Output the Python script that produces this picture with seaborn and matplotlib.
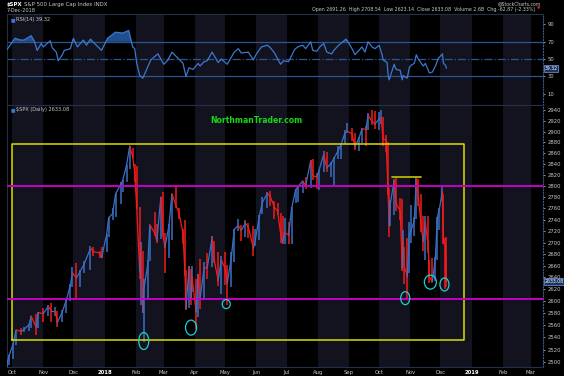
import matplotlib
matplotlib.use("Agg")
import matplotlib.pyplot as plt
import matplotlib.dates as mdates
import matplotlib.transforms as mtransforms
from matplotlib.patches import Ellipse
from matplotlib.ticker import NullLocator
import numpy as np
import pandas as pd
import seaborn as sns

# $SPX samples: date, period high, period low, close
dates = ["2017-09-26", "2017-09-28", "2017-10-02", "2017-10-05", "2017-10-10", "2017-10-13",
         "2017-10-18", "2017-10-20", "2017-10-25", "2017-10-27", "2017-11-01", "2017-11-06",
         "2017-11-09", "2017-11-13", "2017-11-15", "2017-11-20", "2017-11-24", "2017-11-28",
         "2017-11-30", "2017-12-04", "2017-12-08", "2017-12-12", "2017-12-18", "2017-12-21",
         "2017-12-27", "2017-12-29", "2018-01-03", "2018-01-05", "2018-01-09", "2018-01-12",
         "2018-01-17", "2018-01-19", "2018-01-23", "2018-01-26", "2018-01-29", "2018-01-31",
         "2018-02-02", "2018-02-05", "2018-02-06", "2018-02-08", "2018-02-09", "2018-02-13",
         "2018-02-15", "2018-02-20", "2018-02-22", "2018-02-26", "2018-02-28", "2018-03-02",
         "2018-03-06", "2018-03-09", "2018-03-13", "2018-03-16", "2018-03-20", "2018-03-22",
         "2018-03-23", "2018-03-26", "2018-03-28", "2018-03-29", "2018-04-02", "2018-04-04",
         "2018-04-06", "2018-04-10", "2018-04-13", "2018-04-18", "2018-04-20", "2018-04-24",
         "2018-04-27", "2018-05-01", "2018-05-03", "2018-05-07", "2018-05-10", "2018-05-14",
         "2018-05-17", "2018-05-21", "2018-05-24", "2018-05-29", "2018-05-31", "2018-06-04",
         "2018-06-07", "2018-06-12", "2018-06-15", "2018-06-19", "2018-06-22", "2018-06-25",
         "2018-06-27", "2018-06-29", "2018-07-03", "2018-07-06", "2018-07-10", "2018-07-12",
         "2018-07-17", "2018-07-20", "2018-07-25", "2018-07-27", "2018-07-31", "2018-08-02",
         "2018-08-07", "2018-08-10", "2018-08-14", "2018-08-17", "2018-08-21", "2018-08-24",
         "2018-08-28", "2018-08-30", "2018-09-04", "2018-09-07", "2018-09-11", "2018-09-14",
         "2018-09-18", "2018-09-20", "2018-09-24", "2018-09-27", "2018-10-01", "2018-10-03",
         "2018-10-05", "2018-10-08", "2018-10-10", "2018-10-11", "2018-10-12", "2018-10-16",
         "2018-10-18", "2018-10-22", "2018-10-24", "2018-10-25", "2018-10-26", "2018-10-29",
         "2018-10-31", "2018-11-02", "2018-11-05", "2018-11-07", "2018-11-09", "2018-11-12",
         "2018-11-14", "2018-11-16", "2018-11-19", "2018-11-20", "2018-11-23", "2018-11-26",
         "2018-11-28", "2018-11-30", "2018-12-03", "2018-12-04", "2018-12-06", "2018-12-07"]
highs = [2503, 2511, 2530, 2552, 2555, 2557, 2562, 2576, 2579, 2582, 2588, 2593,
         2597, 2590, 2583, 2585, 2604, 2628, 2657, 2665, 2652, 2668, 2694, 2692,
         2686, 2692, 2715, 2744, 2760, 2787, 2807, 2811, 2839, 2873, 2870, 2840,
         2836, 2763, 2701, 2686, 2638, 2669, 2731, 2754, 2732, 2780, 2789, 2716,
         2732, 2786, 2802, 2761, 2724, 2740, 2652, 2659, 2655, 2660, 2638, 2645,
         2672, 2666, 2681, 2712, 2703, 2683, 2677, 2683, 2661, 2683, 2724, 2742,
         2731, 2740, 2735, 2728, 2723, 2749, 2780, 2790, 2791, 2774, 2770, 2752,
         2746, 2743, 2736, 2763, 2795, 2799, 2810, 2816, 2847, 2849, 2824, 2829,
         2863, 2862, 2843, 2853, 2873, 2876, 2903, 2916, 2906, 2898, 2889, 2907,
         2910, 2934, 2941, 2939, 2937, 2940, 2928, 2894, 2881, 2796, 2775, 2813,
         2816, 2778, 2777, 2722, 2692, 2707, 2736, 2766, 2744, 2815, 2813, 2786,
         2746, 2746, 2746, 2670, 2674, 2675, 2744, 2760, 2800, 2785, 2708, 2709]
lows = [2488, 2496, 2505, 2528, 2544, 2549, 2550, 2555, 2544, 2555, 2566, 2575,
        2566, 2576, 2557, 2565, 2580, 2600, 2624, 2605, 2624, 2648, 2652, 2676,
        2673, 2673, 2683, 2710, 2740, 2745, 2767, 2790, 2808, 2830, 2851, 2808,
        2759, 2638, 2593, 2580, 2533, 2602, 2668, 2711, 2699, 2706, 2712, 2648,
        2674, 2705, 2760, 2741, 2697, 2642, 2585, 2588, 2593, 2615, 2553, 2573,
        2587, 2605, 2637, 2657, 2664, 2625, 2612, 2627, 2594, 2624, 2667, 2720,
        2702, 2710, 2707, 2676, 2694, 2705, 2750, 2760, 2764, 2742, 2748, 2699,
        2698, 2698, 2698, 2698, 2770, 2772, 2788, 2794, 2797, 2811, 2795, 2792,
        2825, 2825, 2817, 2802, 2849, 2850, 2876, 2898, 2883, 2865, 2864, 2878,
        2874, 2903, 2913, 2905, 2903, 2915, 2874, 2862, 2784, 2710, 2729, 2749,
        2755, 2740, 2651, 2667, 2628, 2604, 2648, 2700, 2712, 2741, 2765, 2718,
        2685, 2670, 2681, 2631, 2631, 2634, 2670, 2722, 2773, 2697, 2621, 2623]
closes = [2497, 2510, 2529, 2552, 2550, 2553, 2561, 2575, 2557, 2581, 2579, 2591,
          2584, 2584, 2564, 2582, 2602, 2627, 2648, 2639, 2651, 2664, 2690, 2684,
          2682, 2674, 2713, 2743, 2751, 2786, 2803, 2810, 2839, 2873, 2853, 2824,
          2762, 2649, 2695, 2581, 2620, 2662, 2731, 2716, 2703, 2780, 2714, 2691,
          2729, 2786, 2765, 2752, 2717, 2644, 2588, 2658, 2605, 2641, 2582, 2645,
          2604, 2657, 2656, 2708, 2670, 2635, 2670, 2655, 2630, 2673, 2723, 2730,
          2721, 2734, 2727, 2690, 2705, 2747, 2771, 2787, 2780, 2762, 2755, 2717,
          2699, 2718, 2713, 2760, 2793, 2798, 2809, 2801, 2846, 2819, 2816, 2827,
          2858, 2833, 2840, 2850, 2863, 2875, 2897, 2901, 2896, 2872, 2888, 2905,
          2904, 2931, 2919, 2914, 2924, 2926, 2886, 2884, 2786, 2729, 2767, 2810,
          2768, 2756, 2656, 2706, 2659, 2641, 2712, 2723, 2738, 2814, 2781, 2726,
          2702, 2736, 2690, 2641, 2633, 2674, 2744, 2760, 2790, 2700, 2695, 2633.08]

# RSI(14)
rsi_dates = ["2017-09-26", "2017-10-04", "2017-10-09", "2017-10-13", "2017-10-20", "2017-10-23",
             "2017-10-26", "2017-10-30", "2017-11-01", "2017-11-08", "2017-11-10", "2017-11-14",
             "2017-11-16", "2017-11-20", "2017-11-22", "2017-11-28", "2017-12-01", "2017-12-05",
             "2017-12-11", "2017-12-14", "2017-12-18", "2017-12-22", "2017-12-29", "2018-01-04",
             "2018-01-12", "2018-01-19", "2018-01-25", "2018-01-29", "2018-01-31", "2018-02-02",
             "2018-02-05", "2018-02-08", "2018-02-13", "2018-02-16", "2018-02-20", "2018-02-23",
             "2018-03-01", "2018-03-05", "2018-03-09", "2018-03-15", "2018-03-20", "2018-03-23",
             "2018-03-26", "2018-03-30", "2018-04-04", "2018-04-06", "2018-04-10", "2018-04-13",
             "2018-04-18", "2018-04-24", "2018-04-27", "2018-05-03", "2018-05-10", "2018-05-14",
             "2018-05-17", "2018-05-24", "2018-05-29", "2018-06-01", "2018-06-06", "2018-06-12",
             "2018-06-15", "2018-06-19", "2018-06-25", "2018-06-28", "2018-07-03", "2018-07-09",
             "2018-07-12", "2018-07-17", "2018-07-20", "2018-07-25", "2018-07-27", "2018-07-31",
             "2018-08-03", "2018-08-07", "2018-08-10", "2018-08-15", "2018-08-17", "2018-08-21",
             "2018-08-24", "2018-08-29", "2018-08-31", "2018-09-05", "2018-09-07", "2018-09-11",
             "2018-09-14", "2018-09-17", "2018-09-20", "2018-09-24", "2018-09-27", "2018-10-01",
             "2018-10-04", "2018-10-05", "2018-10-09", "2018-10-10", "2018-10-11", "2018-10-16",
             "2018-10-18", "2018-10-22", "2018-10-24", "2018-10-25", "2018-10-26", "2018-10-29",
             "2018-10-31", "2018-11-02", "2018-11-05", "2018-11-07", "2018-11-09", "2018-11-12",
             "2018-11-14", "2018-11-16", "2018-11-20", "2018-11-23", "2018-11-26", "2018-11-29",
             "2018-12-03", "2018-12-04", "2018-12-06", "2018-12-07"]
rsi_values = [61, 74, 72, 72, 77, 71, 60, 68, 64, 71, 63, 58,
              48, 55, 60, 62, 74, 64, 72, 66, 73, 68, 60, 74,
              81, 80, 83, 64, 62, 45, 31, 28, 41, 49, 53, 56,
              44, 49, 58, 51, 45, 30, 40, 38, 45, 42, 47, 48,
              58, 46, 50, 44, 58, 62, 57, 58, 49, 56, 64, 66,
              63, 57, 44, 48, 47, 61, 64, 66, 62, 70, 60, 59,
              64, 68, 58, 56, 60, 65, 68, 73, 70, 60, 55, 60,
              64, 58, 70, 64, 62, 66, 55, 49, 46, 31, 26, 44,
              38, 37, 26, 31, 30, 28, 40, 43, 45, 55, 50, 45,
              42, 45, 34, 35, 42, 51, 56, 45, 43, 39.32]

month_starts = pd.date_range("2017-10-01", "2019-03-01", freq="MS")
month_labels = ["Oct", "Nov", "Dec", "2018", "Feb", "Mar", "Apr", "May", "Jun", "Jul",
                "Aug", "Sep", "Oct", "Nov", "Dec", "2019", "Feb", "Mar"]

box_dates = ["2017-10-01", "2018-12-24"]
box_prices = [2536, 2876]
magenta_levels = [2800, 2603]
resist_dates = ["2018-10-14", "2018-11-12"]
resist_level = 2817
circle_dates = ["2018-02-09", "2018-03-28", "2018-05-02", "2018-10-27", "2018-11-21", "2018-12-05"]
circle_prices = [2534, 2556, 2595, 2605, 2632, 2628]
circle_w = [10, 11, 8, 9, 12, 9]   # pixels
circle_h = [17, 15, 9, 13, 14, 13]

BG = "#000000"
BAND = "#13131f"
UP = "#3a6fc4"
DOWN = "#f21c1c"
RSI_C = "#3c78d0"
TXT = "#c8c8c8"

sns.set_theme(style="dark", rc={"axes.facecolor": BG, "figure.facecolor": BG,
                                "axes.grid": False})
plt.rcParams['font.family'] = ['DejaVu Sans']

fig = plt.figure(figsize=(5.64, 3.76), dpi=100)
W, H = 564, 376
L, R = 7, 543
ax_rsi = fig.add_axes([L / W, 1 - 105 / H, (R - L) / W, 91 / H])
ax = fig.add_axes([L / W, 1 - 367 / H, (R - L) / W, 262 / H], sharex=ax_rsi)

df = pd.DataFrame({"date": pd.to_datetime(dates), "high": highs, "low": lows, "close": closes})
df["up"] = df["close"].diff().fillna(1) >= 0
rsi = pd.DataFrame({"date": pd.to_datetime(rsi_dates), "rsi": rsi_values})

xmin, xmax = pd.Timestamp("2017-09-26"), pd.Timestamp("2019-03-13")
for a in (ax_rsi, ax):
    a.set_facecolor(BG)
    for m in month_starts:
        if m.month % 2 == 0:
            a.axvspan(m, m + pd.offsets.MonthBegin(1), color=BAND, lw=0, zorder=0)
    a.set_xlim(xmin, xmax)
    for s in a.spines.values():
        s.set_color("#24304a")
        s.set_linewidth(0.8)
    a.spines["right"].set_linestyle(":")
    a.spines["right"].set_color("#3d5a92")
    a.yaxis.tick_right()
    a.tick_params(axis="y", colors=TXT, labelsize=3.8, length=1.5, width=0.5, pad=1.5)
    a.tick_params(axis="x", colors=TXT, labelsize=3.8, length=0, pad=2)

# RSI panel
ax_rsi.set_ylim(-3, 102)
for lvl, ls in [(70, "-"), (30, "-"), (50, "-.")]:
    ax_rsi.axhline(lvl, color="#2a5596", lw=0.9, ls=ls, zorder=1)
ax_rsi.fill_between(rsi["date"], rsi["rsi"], 70, where=rsi["rsi"] > 70,
                    interpolate=True, color="#1f4f8f", lw=0, zorder=2)
sns.lineplot(data=rsi, x="date", y="rsi", ax=ax_rsi, color=RSI_C, lw=0.9, zorder=3)
ax_rsi.set_yticks([10, 30, 50, 70, 90])
ax_rsi.set_xlabel("")
ax_rsi.set_ylabel("")
plt.setp(ax_rsi.get_xticklabels(), visible=False)
ax_rsi.text(0.006, 0.965, "■", transform=ax_rsi.transAxes, color="#3c78d0", fontsize=3.5, va="top")
ax_rsi.text(0.016, 0.965, "RSI(14) 39.32", transform=ax_rsi.transAxes, color=TXT, fontsize=3.6, va="top")
ax_rsi.text(1.003, rsi_values[-1], "39.32", transform=ax_rsi.get_yaxis_transform(),
            color="white", fontsize=3.3, va="center", ha="left",
            bbox=dict(boxstyle="square,pad=0.15", fc="#1d3564", ec="#7b9bd6", lw=0.5))

# price panel
ax.set_yscale("log")
ax.set_ylim(2492, 2950)
ticks = list(range(2500, 2941, 20))
ax.yaxis.set_major_locator(plt.FixedLocator(ticks))
ax.yaxis.set_minor_locator(NullLocator())
ax.set_yticklabels([str(t) for t in ticks])

cols = np.where(df["up"], UP, DOWN)
ax.vlines(df["date"], df["low"], df["high"], colors=cols, lw=1.1, zorder=3)
for i in range(1, len(df)):
    ax.plot(df["date"].iloc[i - 1:i + 1], df["close"].iloc[i - 1:i + 1], color=cols[i], lw=0.9, zorder=3)

b0, b1 = pd.to_datetime(box_dates)
ax.plot([b0, b1, b1, b0, b0], [box_prices[0], box_prices[0], box_prices[1], box_prices[1], box_prices[0]],
        color="#dcdc00", lw=1.1, zorder=4)
for lvl in magenta_levels:
    ax.axhline(lvl, color="#c400c4", lw=1.4, zorder=4)
ax.plot(pd.to_datetime(resist_dates), [resist_level, resist_level], color="#b8b800", lw=1.3, zorder=4)

# ellipses sized in pixels, centred on data points
for d, p, w, h in zip(pd.to_datetime(circle_dates), circle_prices, circle_w, circle_h):
    tr = fig.dpi_scale_trans + mtransforms.ScaledTranslation(mdates.date2num(d), p, ax.transData)
    ax.add_patch(Ellipse((0, 0), w / 100, h / 100, transform=tr, fill=False,
                         ec="#1fd0d0", lw=0.9, zorder=5))

ax.set_xticks(month_starts)
ax.set_xticklabels(month_labels)
for lab in ax.get_xticklabels():
    if lab.get_text() in ("2018", "2019"):
        lab.set_fontweight("bold")
        lab.set_color("white")

ax.text(0.466, 0.939, "NorthmanTrader.com", transform=ax.transAxes, color="#16d816",
        fontsize=5.6, fontweight="bold", ha="center", va="center")
ax.text(0.006, 0.992, "■", transform=ax.transAxes, color="#3c78d0", fontsize=3.5, va="top")
ax.text(0.016, 0.992, "$SPX (Daily) 2633.08", transform=ax.transAxes, color=TXT, fontsize=3.6, va="top")
ax.text(1.003, closes[-1], "2633.08", transform=ax.get_yaxis_transform(),
        color="white", fontsize=3.3, va="center", ha="left",
        bbox=dict(boxstyle="square,pad=0.15", fc="#1d3564", ec="#7b9bd6", lw=0.5))

# header
fig.text(7 / W, 1 - 2 / H, "$SPX", color="white", fontsize=3.9, fontweight="bold", va="top")
fig.text(24 / W, 1 - 2 / H, "S&P 500 Large Cap Index INDX", color=TXT, fontsize=3.9, va="top")
fig.text(7 / W, 1 - 8 / H, "7-Dec-2018", color=TXT, fontsize=3.6, va="top")
fig.text(541 / W, 1 - 1 / H, "@StockCharts.com", color=TXT, fontsize=3.3, va="top", ha="right")
fig.text(535 / W, 1 - 7 / H,
         "Open 2691.26  High 2708.54  Low 2623.14  Close 2633.08  Volume 2.6B  Chg -62.87 (-2.33%)",
         color=TXT, fontsize=3.4, va="top", ha="right")
fig.text(537 / W, 1 - 7 / H, "▼", color="#ff2020", fontsize=3.2, va="top", ha="left")

fig.savefig("out.png", dpi=100, facecolor=BG)
